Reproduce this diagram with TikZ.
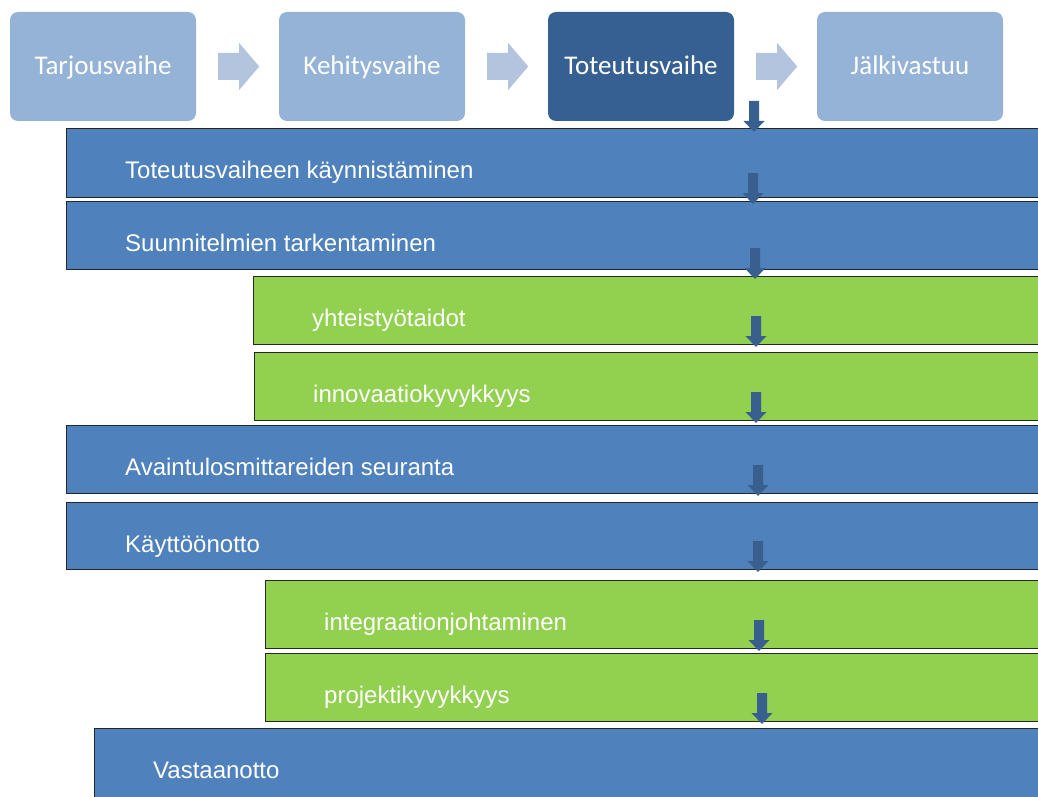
\documentclass[tikz,border=0pt]{standalone}
\usepackage{fontspec}
\newfontfamily\calibrifont{Carlito}
\newfontfamily\arialfont{Liberation Sans}
\definecolor{phaselight}{HTML}{95B3D7}
\definecolor{phasedark}{HTML}{376092}
\definecolor{barblue}{HTML}{4F81BD}
\definecolor{bargreen}{HTML}{92D050}
\definecolor{arrowlight}{HTML}{B3C5DE}
\definecolor{arrowdark}{HTML}{395F8E}
\begin{document}
\begin{tikzpicture}[x=1pt,y=-1pt,
  phasebox/.style={rectangle, rounded corners=8pt, inner sep=0pt, minimum width=186pt, minimum height=109pt,
    text height=20pt, text depth=3pt,
    text=white, font=\calibrifont\fontsize{27}{31}\selectfont},
  barbox/.style={rectangle, anchor=north west, inner sep=0pt, draw=black!85, line width=1.3pt, minimum width=1000pt},
  bluebar/.style={barbox, fill=barblue},
  greenbar/.style={barbox, fill=bargreen},
  bartext/.style={anchor=base west, inner sep=0pt, text=white, font=\arialfont\fontsize{24}{28}\selectfont},
  rarrow/.pic={\fill[arrowlight] (0,-13.5) -- (21,-13.5) -- (21,-23.5) -- (41,0) -- (21,23.5) -- (21,13.5) -- (0,13.5) -- cycle;},
  darrow/.pic={\fill[arrowdark] (-5,0) -- (5,0) -- (5,20) -- (10.5,20) -- (0,31) -- (-10.5,20) -- (-5,20) -- cycle;}
]
\useasboundingbox (0,0) rectangle (1038,797);
\clip (0,0) rectangle (1038,797);

% phases
\node[phasebox, fill=phaselight] (p1) at (103,66.5) {Tarjousvaihe};
\node[phasebox, fill=phaselight] (p2) at (372,66.5) {Kehitysvaihe};
\node[phasebox, fill=phasedark] (p3) at (641,66.5) {Toteutusvaihe};
\node[phasebox, fill=phaselight] (p4) at (910,66.5) {Jälkivastuu};

\pic at ([xshift=22pt]p1.east) {rarrow};
\pic at ([xshift=22pt]p2.east) {rarrow};
\pic at ([xshift=22pt]p3.east) {rarrow};

% bars
\node[bluebar, minimum height=69pt] (b1) at (66,128) {};
\node[bluebar, minimum height=68pt] (b2) at (66,201) {};
\node[greenbar, minimum height=68pt] (g1) at (253,276) {};
\node[greenbar, minimum height=68pt] (g2) at (254,352) {};
\node[bluebar, minimum height=68pt] (b3) at (66,425) {};
\node[bluebar, minimum height=67pt] (b4) at (66,502) {};
\node[greenbar, minimum height=68pt] (g3) at (265,580) {};
\node[greenbar, minimum height=68pt] (g4) at (265,653) {};
\node[bluebar, minimum height=90pt] (b5) at (94,728) {};

\foreach \b/\t in {b1/Toteutusvaiheen käynnistäminen, b2/Suunnitelmien tarkentaminen,
  g1/yhteistyötaidot, g2/innovaatiokyvykkyys, b3/Avaintulosmittareiden seuranta,
  b4/Käyttöönotto, g3/integraationjohtaminen, g4/projektikyvykkyys, b5/Vastaanotto}
  \node[bartext] (\b-label) at ([xshift=59pt,yshift=-50pt]\b.north west) {\t};

% down arrows
\pic at (754,101) {darrow};
\pic at (753,173) {darrow};
\pic at (755,248) {darrow};
\pic at (756,316) {darrow};
\pic at (756,392) {darrow};
\pic at (758,465) {darrow};
\pic at (758,541) {darrow};
\pic at (759,620) {darrow};
\pic at (762,693) {darrow};
\end{tikzpicture}
\end{document}
